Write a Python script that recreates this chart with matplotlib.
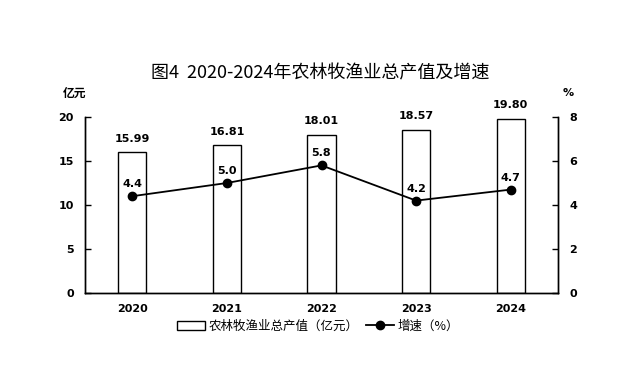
import matplotlib
matplotlib.use("Agg")
import matplotlib.pyplot as plt
from matplotlib.patches import Patch
from matplotlib.lines import Line2D

plt.rcParams['font.family'] = ['Noto Sans CJK SC', 'DejaVu Sans']

years = ["2020", "2021", "2022", "2023", "2024"]
output = [15.99, 16.81, 18.01, 18.57, 19.80]
growth = [4.4, 5.0, 5.8, 4.2, 4.7]

fig = plt.figure(figsize=(6.23, 3.69), dpi=100)
ax = fig.add_axes([85/623, 1-293/369, (558-85)/623, (293-117)/369])
ax2 = ax.twinx()

x = list(range(len(years)))
ax.bar(x, output, width=0.3, color='white', edgecolor='black', linewidth=1.0, zorder=2)
ax.set_xlim(-0.5, 4.5)
ax.set_ylim(0, 20)
ax.set_yticks([0, 5, 10, 15, 20])
ax.set_xticks(x)
ax.set_xticklabels(years)
ax.tick_params(axis='x', length=0, pad=8)
ax.tick_params(axis='y', direction='in', length=4, width=1, pad=8)
for lab in ax.get_xticklabels() + ax.get_yticklabels():
    lab.set_fontfamily('DejaVu Sans')
    lab.set_fontweight('bold')
    lab.set_fontsize(8)

for xi, v in zip(x, output):
    ax.annotate(f"{v:.2f}", (xi, v), xytext=(0, 6), textcoords='offset points',
                ha='center', va='bottom', fontsize=8, fontweight='bold', family='DejaVu Sans')

ax2.plot(x, growth, color='black', linewidth=1.3, marker='o', markersize=6, zorder=3)
ax2.set_ylim(0, 8)
ax2.set_yticks([0, 2, 4, 6, 8])
ax2.tick_params(axis='y', direction='in', length=4, width=1, pad=8)
for lab in ax2.get_yticklabels():
    lab.set_fontfamily('DejaVu Sans')
    lab.set_fontweight('bold')
    lab.set_fontsize(8)
for xi, v in zip(x, growth):
    ax2.annotate(f"{v:.1f}", (xi, v), xytext=(0, 5), textcoords='offset points',
                 ha='center', va='bottom', fontsize=8, fontweight='bold', family='DejaVu Sans')

for a in (ax, ax2):
    a.spines['top'].set_visible(False)
    for s in ('left', 'right', 'bottom'):
        a.spines[s].set_linewidth(1.0)

fig.text(320/623, 1-73/369, "图4  2020-2024年农林牧渔业总产值及增速", ha='center', va='center', fontsize=13)
fig.text(75/623, 1-93/369, "亿元", ha='center', va='center', fontsize=8.5, fontweight='bold')
fig.text(568/623, 1-93/369, "%", ha='center', va='center', fontsize=8, fontweight='bold', family='DejaVu Sans')

handles = [Patch(facecolor='white', edgecolor='black', linewidth=1.0),
           Line2D([0], [0], color='black', linewidth=1.3, marker='o', markersize=6)]
fig.legend(handles, ["农林牧渔业总产值（亿元）", "增速（%）"], loc='center',
           bbox_to_anchor=(318/623, 1-326/369), ncol=2, frameon=False, fontsize=9,
           handlelength=2.2, handletextpad=0.3, columnspacing=0.6)

fig.savefig("out.png", dpi=100)
